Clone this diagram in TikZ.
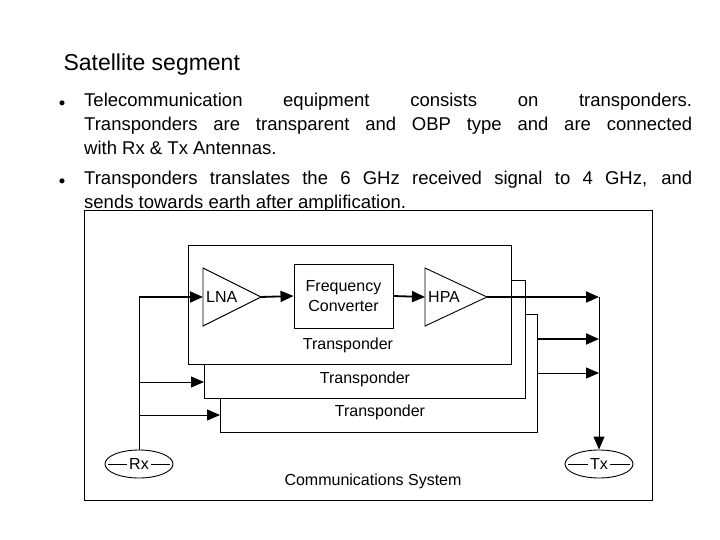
\documentclass[tikz,border=0pt]{standalone}
\usepackage{fontspec}
\setmainfont{Liberation Sans}
\usetikzlibrary{arrows.meta,shapes.geometric}
\begin{document}
\begin{tikzpicture}[x=1pt,y=-1pt,
  txt/.style={font=\fontsize{18.5}{24}\selectfont, text width=608pt, align=justify, inner sep=0pt, anchor=north west},
  lbl/.style={font=\fontsize{16}{18}\selectfont, inner sep=0pt},
  tbox/.style={draw, fill=white, line width=0.9pt},
  sig/.style={line width=1.8pt, -{Triangle[length=13pt,width=11pt]}},
  thin/.style={line width=0.9pt, -{Triangle[length=13pt,width=11pt]}},
  plain/.style={line width=0.9pt},
  ant/.style={draw, ellipse, line width=0.9pt, minimum width=68pt, minimum height=28pt, inner sep=0pt}]
\useasboundingbox (0,0) rectangle (720,540);
\node[anchor=west, font=\fontsize{23}{26}\selectfont] (title) at (60,65) {Satellite segment};
\node[font=\fontsize{18.5}{24}\selectfont] (b1) at (62,105) {•};
\node[txt] (p1) at (84,93) {\hyphenpenalty=10000 Telecommunication equipment consists on transponders.\linebreak Transponders are transparent and OBP type and are connected\linebreak with Rx \& Tx Antennas.};
\node[font=\fontsize{18.5}{24}\selectfont] (b2) at (62,183) {•};
\node[txt] (p2) at (84,171) {\hyphenpenalty=10000 Transponders translates the 6 GHz received signal to 4 GHz, and\linebreak sends towards earth after amplification.};
% outer box
\draw[tbox] (84,210) rectangle (652,500);
% transponders
\draw[tbox] (220,314) rectangle (537,432);
\draw[tbox] (204,280) rectangle (525,398);
\draw[tbox] (188,245) rectangle (511,364);
\node[lbl] (t1) at (348,345) {Transponder};
\node[lbl] (t2) at (365,379) {Transponder};
\node[lbl] (t3) at (380,412) {Transponder};
% blocks
\draw[plain] (203,268) -- (203,326) -- (261,297) -- cycle;
\coordinate (lnain) at (203,297); \coordinate (lnaout) at (261,297);
\node[lbl, anchor=west] (lna) at (206,297) {LNA};
\node[draw, line width=0.9pt, minimum width=99pt, minimum height=64pt, align=center, font=\fontsize{16}{20}\selectfont] (fc) at (343.5,296) {Frequency\\Converter};
\draw[plain] (425,268) -- (425,326) -- (487,297) -- cycle;
\coordinate (hpain) at (425,297); \coordinate (hpaout) at (487,297);
\node[lbl, anchor=west] (hpa) at (428,297) {HPA};
% antennas
\node[ant] (rx) at (139,464) {};
\draw[plain] (108,464) -- (170,464);
\node[lbl, fill=white, inner xsep=2pt] (rxl) at (139,464) {Rx};
\node[ant] (tx) at (599,464) {};
\draw[plain] (568,464) -- (630,464);
\node[lbl, fill=white, inner xsep=2pt] (txl) at (599,464) {Tx};
\node[lbl] (cs) at (373,481) {Communications System};
% connectors
\coordinate (lt) at (139,297);
\coordinate (rt) at (599,297);
\draw[plain] (rx.north) -- (lt);
\draw[sig] (lt) -- (lnain);
\draw[sig] (lnaout) -- (fc.west);
\draw[sig] (fc.east) -- (hpain);
\draw[sig] (hpaout) -- (rt);
\draw[thin] (rt) -- (tx.north);
\coordinate (l2) at (139,382); \coordinate (l3) at (139,415);
\draw[thin] (l2) -- (204,382);
\draw[thin] (l3) -- (220,415);
\coordinate (r2) at (537,339); \coordinate (r3) at (537,373);
\draw[sig] (r2) -- (599,339);
\draw[thin] (r3) -- (599,373);
\end{tikzpicture}
\end{document}
